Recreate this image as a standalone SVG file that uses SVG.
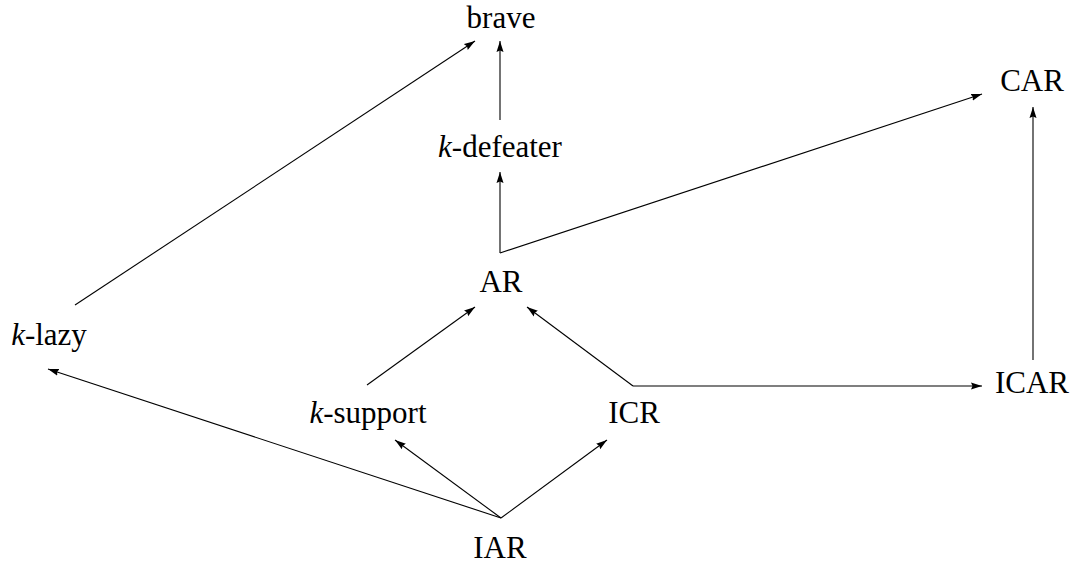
<svg xmlns="http://www.w3.org/2000/svg" width="1077" height="564" viewBox="0 0 1077 564">
<style>
text{font-family:"Liberation Serif","Times New Roman",serif;font-size:31px;fill:#000;text-anchor:middle}
.k{font-style:italic}
.e{fill:none;stroke:#000;stroke-width:1.1;marker-end:url(#ah)}
</style>
<defs>
<marker id="ah" markerUnits="userSpaceOnUse" markerWidth="12" markerHeight="9" refX="11" refY="4" orient="auto">
<path d="M0,0.5 L11,4 L0,7.5 L1.5,4 z" fill="#000"/>
</marker>
</defs>
<rect width="1077" height="564" fill="#fff"/>
<g id="connectors">
<path class="e" d="M75,305 L475,41"/>
<path class="e" d="M500,120 L500,41"/>
<path class="e" d="M500,253 L500,172"/>
<path class="e" d="M500,253 L982,94"/>
<path class="e" d="M367,385 L475,307"/>
<path class="e" d="M633,386 L527,307"/>
<path class="e" d="M633,386 L982,386"/>
<path class="e" d="M1033,360 L1033,107"/>
<path class="e" d="M501,518 L48,369"/>
<path class="e" d="M501,518 L395,440"/>
<path class="e" d="M501,518 L607,440"/>
</g>
<g id="brave"><text x="501" y="28">brave</text></g>
<g id="k-defeater"><text x="500" y="157"><tspan class="k">k</tspan>-defeater</text></g>
<g id="CAR"><text x="1032" y="91">CAR</text></g>
<g id="AR"><text x="501" y="292">AR</text></g>
<g id="k-lazy"><text x="49" y="345"><tspan class="k">k</tspan>-lazy</text></g>
<g id="k-support"><text x="368" y="423"><tspan class="k">k</tspan>-support</text></g>
<g id="ICR"><text x="634" y="423">ICR</text></g>
<g id="ICAR"><text x="1032" y="393">ICAR</text></g>
<g id="IAR"><text x="500" y="558">IAR</text></g>
</svg>
